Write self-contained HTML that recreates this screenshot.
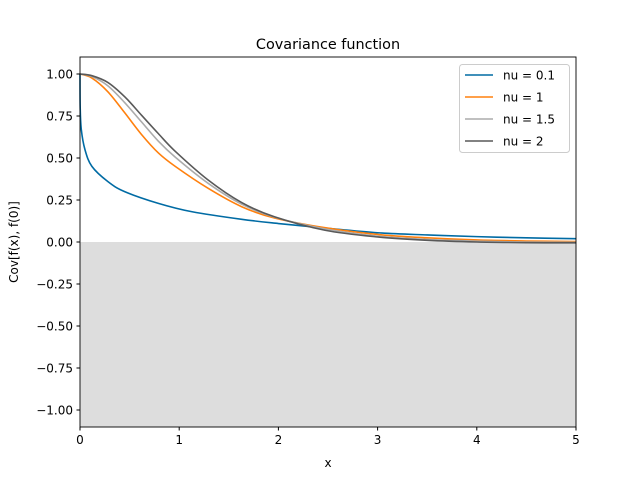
<!DOCTYPE html>
<html><head><meta charset="utf-8"><style>
body{margin:0;background:#fff;font-family:"Liberation Sans","DejaVu Sans",sans-serif}
svg text{font-family:"DejaVu Sans","Liberation Sans",sans-serif}
</style></head><body>
<svg id="chart" width="640" height="480" xmlns="http://www.w3.org/2000/svg">
<rect width="640" height="480" fill="#fff"/>
<text x="328" y="49" font-size="14.4" text-anchor="middle">Covariance function</text>
<g id="plot"></g>
<g id="axes"></g>
<text x="328" y="467" font-size="12" text-anchor="middle">x</text>
<text transform="translate(18,242) rotate(-90)" font-size="12" text-anchor="middle">Cov[f(x), f(0)]</text>
<g id="legend"></g>
</svg>
<script>
const xTicks=[0,1,2,3,4,5];
const yTicks=[-1.00,-0.75,-0.50,-0.25,0.00,0.25,0.50,0.75,1.00];
const seriesNames=["nu = 0.1","nu = 1","nu = 1.5","nu = 2"];
const xs0=[0,0.002,0.013,0.05,0.12,0.28,0.45,0.79,1.13,1.63,2.0,2.47,3,3.5,4,4.5,5];
const nu01=[1.0,0.8,0.67,0.55,0.45,0.36,0.30,0.23,0.18,0.135,0.11,0.083,0.055,0.042,0.032,0.025,0.02];
const xs1=[0,0.12,0.28,0.45,0.62,0.79,0.96,1.29,1.63,1.96,2.47,3,3.5,4,4.5,5];
const nu1=[1.0,0.976,0.895,0.77,0.64,0.53,0.45,0.32,0.21,0.143,0.085,0.045,0.025,0.012,0.006,0.003];
const nu15=[1.0,0.985,0.93,0.83,0.715,0.60,0.505,0.35,0.225,0.148,0.078,0.035,0.015,0.005,0.0,-0.002];
const nu2=[1.0,0.99,0.95,0.865,0.755,0.645,0.54,0.37,0.235,0.15,0.07,0.03,0.01,0.0,-0.004,-0.005];
const colors=["#006BA4","#FF800E","#ABABAB","#595959"];
const L=80,R=576,T=57,B=427;
const xS=v=>L+(v-0)/5*(R-L);
const yS=v=>242-v*168;
const ns="http://www.w3.org/2000/svg";
function mk(tag,attrs,parent){const e=document.createElementNS(ns,tag);for(const k in attrs)e.setAttribute(k,attrs[k]);parent.appendChild(e);return e;}
function smoothPath(P){
  let d='M'+P[0][0].toFixed(2)+','+P[0][1].toFixed(2);
  for(let i=0;i<P.length-1;i++){
    const p0=P[Math.max(0,i-1)],p1=P[i],p2=P[i+1],p3=P[Math.min(P.length-1,i+2)];
    const c1=[p1[0]+(p2[0]-p0[0])/6,p1[1]+(p2[1]-p0[1])/6];
    const c2=[p2[0]-(p3[0]-p1[0])/6,p2[1]-(p3[1]-p1[1])/6];
    d+=' C'+c1[0].toFixed(2)+','+c1[1].toFixed(2)+' '+c2[0].toFixed(2)+','+c2[1].toFixed(2)+' '+p2[0].toFixed(2)+','+p2[1].toFixed(2);
  }
  return d;
}
const plot=document.getElementById('plot'),axes=document.getElementById('axes'),leg=document.getElementById('legend');
const shade=mk('rect',{x:L,y:yS(0),width:R-L,height:B-yS(0),fill:'#DDDDDD'},plot);


const data=[[xs0,nu01],[xs1,nu1],[xs1,nu15],[xs1,nu2]];
data.forEach((d,i)=>{
  const P=d[0].map((x,j)=>[xS(x),yS(d[1][j])]);
  const p=mk('path',{d:smoothPath(P),fill:'none',stroke:colors[i],'stroke-width':1.6,'stroke-linejoin':'round'},plot);
  
  
});
const frame=mk('rect',{x:L,y:T,width:R-L,height:B-T,fill:'none',stroke:'#000','stroke-width':0.9},axes);


xTicks.forEach(t=>{
  mk('line',{x1:xS(t),x2:xS(t),y1:B,y2:B+3.5,stroke:'#000'},axes);
  const tx=mk('text',{x:xS(t),y:B+17,'font-size':12,'text-anchor':'middle'},axes);
  tx.textContent=t;
  
  
});
yTicks.forEach(t=>{
  mk('line',{x1:L-3.5,x2:L,y1:yS(t),y2:yS(t),stroke:'#000'},axes);
  const tx=mk('text',{x:L-7,y:yS(t)+4.5,'font-size':12,'text-anchor':'end'},axes);
  tx.textContent=(t<0?'\u2212':'')+Math.abs(t).toFixed(2);
  
  
});
const lb=mk('rect',{x:459.5,y:64.5,width:110,height:88,rx:3,fill:'#fff','fill-opacity':0.8,stroke:'#ccc'},leg);


seriesNames.forEach((n,i)=>{
  const y=75+i*22;
  const l=mk('line',{x1:465,x2:493,y1:y,y2:y,stroke:colors[i],'stroke-width':1.6},leg);
  
  
  const t=mk('text',{x:503,y:y+4.5,'font-size':12},leg);
  t.textContent=n;
  
  
});
</script>
</body></html>
